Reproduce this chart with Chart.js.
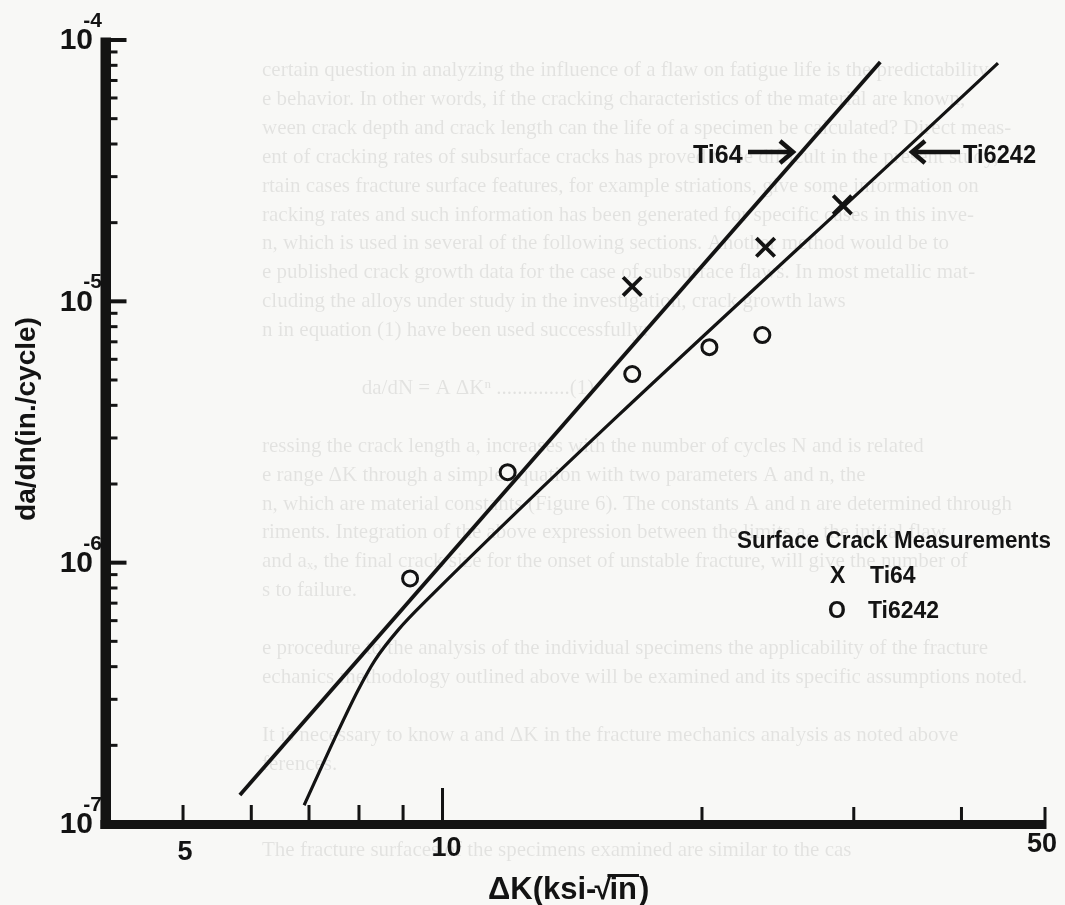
<!DOCTYPE html>
<html>
<head>
<meta charset="utf-8">
<title>Surface crack growth rate vs. stress intensity range</title>
<script src="https://cdn.jsdelivr.net/npm/chart.js@4.4.1/dist/chart.umd.min.js"></script>
<style>
  html, body { margin: 0; padding: 0; background: #f8f8f6; }
  canvas { display: block; }
</style>
</head>
<body>
<canvas id="crackChart" width="1065" height="905"></canvas>
<script>
// Surface crack measurements, ΔK in ksi·√in, da/dn in in./cycle
const ti64DeltaK = [16.6, 23.7, 29.1];
const ti64Rate = [1.14e-5, 1.61e-5, 2.34e-5];
const ti6242DeltaK = [9.17, 11.9, 16.6, 20.4, 23.5];
const ti6242Rate = [8.7e-7, 2.22e-6, 5.27e-6, 6.68e-6, 7.43e-6];

// Growth-law curves for each alloy
const ti64CurveDeltaK = [5.82, 32.2];
const ti64CurveRate = [1.29e-7, 8.24e-5];
const ti6242CurveDeltaK = [6.91, 7.48, 7.98, 8.35, 8.88, 9.59, 44.1];
const ti6242CurveRate = [1.18e-7, 2.09e-7, 3.25e-7, 4.24e-7, 5.52e-7, 7.2e-7, 8.16e-5];

// Axis ticks
const deltaKTicks = [5, 6, 7, 8, 9, 10, 20, 30, 40, 50];
const deltaKLabels = [5, 10, 50];
const rateDecades = [-7, -6, -5, -4];
const rateMinor = [2, 3, 4, 5, 6, 7, 8, 9];

// Text of the facing page that shows through the paper
const pageLines = [
  "certain question in analyzing the influence of a flaw on fatigue life is the predictability",
  "e behavior. In other words, if the cracking characteristics of the material are known,",
  "ween crack depth and crack length can the life of a specimen be calculated? Direct meas-",
  "ent of cracking rates of subsurface cracks has proved to be difficult in the present study,",
  "rtain cases fracture surface features, for example striations, give some information on",
  "racking rates and such information has been generated for specific cases in this inve-",
  "n, which is used in several of the following sections. Another method would be to",
  "e published crack growth data for the case of subsurface flaws. In most metallic mat-",
  "cluding the alloys under study in the investigation, crack growth laws",
  "n in equation (1) have been used successfully:",
  "",
  "                   da/dN = A ΔK\u207F ..............(1)",
  "",
  "ressing the crack length a, increases with the number of cycles N and is related",
  "e range ΔK through a simple equation with two parameters A and n, the",
  "n, which are material constants (Figure 6). The constants A and n are determined through",
  "riments. Integration of the above expression between the limits a\u2080, the initial flaw",
  "and a\u2093, the final crack size for the onset of unstable fracture, will give the number of",
  "s to failure.",
  "",
  "e procedure to the analysis of the individual specimens the applicability of the fracture",
  "echanics methodology outlined above will be examined and its specific assumptions noted.",
  "",
  "It is necessary to know a and ΔK in the fracture mechanics analysis as noted above",
  "ferences.",
  "",
  "",
  "The fracture surfaces of the specimens examined are similar to the cas"
];

const PAPER = "#f8f8f6";
const INK = "#131313";
const BOLD = "'Liberation Sans', Arial, sans-serif";

const toPoints = (xs, ys) => xs.map((x, i) => ({ x: x, y: ys[i] }));

function drawArrow(ctx, tipX, fromX, y, dir) {
  ctx.save();
  ctx.strokeStyle = INK;
  ctx.lineWidth = 4.5;
  ctx.lineCap = "butt";
  ctx.beginPath();
  ctx.moveTo(fromX, y);
  ctx.lineTo(tipX - dir * 3, y);
  ctx.stroke();
  ctx.lineJoin = "miter";
  ctx.beginPath();
  ctx.moveTo(tipX - dir * 13, y - 11);
  ctx.lineTo(tipX, y);
  ctx.lineTo(tipX - dir * 13, y + 11);
  ctx.stroke();
  ctx.restore();
}

const paperAxes = {
  id: "paperAxes",
  beforeDraw(chart) {
    const ctx = chart.ctx;
    ctx.save();
    ctx.fillStyle = PAPER;
    ctx.fillRect(0, 0, chart.width, chart.height);
    ctx.fillStyle = "rgba(0, 0, 0, 0.085)";
    ctx.font = "21px 'Liberation Serif', serif";
    ctx.textBaseline = "alphabetic";
    ctx.textAlign = "left";
    pageLines.forEach((line, i) => {
      ctx.fillText(line, 262, 76 + i * 28.9);
    });
    ctx.restore();
  },
  afterDraw(chart) {
    const ctx = chart.ctx;
    const xs = chart.scales.x;
    const ys = chart.scales.y;
    const area = chart.chartArea;
    const axisLeft = area.left + 1;
    const axisTop = area.bottom - 4;

    ctx.save();
    ctx.fillStyle = INK;

    // y axis bar and ticks
    const yTop = ys.getPixelForValue(1e-4);
    ctx.fillRect(axisLeft, yTop - 2.5, 10.5, area.bottom + 5 - yTop + 2.5);
    rateDecades.forEach(exp => {
      const major = Math.pow(10, exp);
      if (exp > -7) {
        const py = ys.getPixelForValue(major);
        ctx.fillRect(axisLeft + 10, py - 2, 16, 4);
      }
      if (exp < -4) {
        rateMinor.forEach(m => {
          const py = ys.getPixelForValue(m * major);
          ctx.fillRect(axisLeft + 10, py - 1.5, 7, 3);
        });
      }
    });

    // x axis bar and ticks
    ctx.fillRect(axisLeft, axisTop, xs.getPixelForValue(50) + 1.5 - axisLeft, 9);
    deltaKTicks.forEach(v => {
      const px = xs.getPixelForValue(v);
      const h = v === 10 ? 32 : (v < 10 ? 15 : 13);
      ctx.fillRect(px - 1.5, axisTop - h, 3, h);
    });

    // y tick labels: 10 with a superscript exponent
    ctx.textAlign = "right";
    rateDecades.forEach(exp => {
      const py = ys.getPixelForValue(Math.pow(10, exp));
      ctx.font = "bold 30px " + BOLD;
      ctx.textBaseline = "middle";
      ctx.fillText("10", 93, py + 1);
      ctx.font = "bold 21px " + BOLD;
      ctx.textBaseline = "alphabetic";
      ctx.fillText("-" + Math.abs(exp), 102, py - 13);
    });

    // x tick labels
    ctx.textAlign = "center";
    ctx.textBaseline = "alphabetic";
    ctx.font = "bold 27px " + BOLD;
    deltaKLabels.forEach(v => {
      const px = xs.getPixelForValue(v);
      if (v === 50) ctx.fillText("50", px - 3, 852);
      else if (v === 10) ctx.fillText("10", px + 4, 856);
      else ctx.fillText(String(v), px + 2, 860);
    });

    // x axis title: ΔK(ksi-√in) with the radical bar over "in"
    ctx.textAlign = "left";
    ctx.font = "bold 31px " + BOLD;
    let tx = 488;
    const base = 899;
    const head = "\u0394K(ksi-";
    ctx.fillText(head, tx, base);
    tx += ctx.measureText(head).width;
    ctx.fillText("\u221A", tx - 2, base);
    tx += ctx.measureText("\u221A").width - 4;
    const inW = ctx.measureText("in").width;
    ctx.fillText("in", tx, base);
    ctx.fillRect(tx - 2, base - 25, inW + 4, 3);
    tx += inW + 2;
    ctx.fillText(")", tx, base);

    // y axis title
    ctx.save();
    ctx.translate(27, 419);
    ctx.rotate(-Math.PI / 2);
    ctx.textAlign = "center";
    ctx.textBaseline = "middle";
    ctx.font = "bold 28px " + BOLD;
    ctx.fillText("da/dn(in./cycle)", 0, 0, 204);
    ctx.restore();

    // curve labels with arrows
    ctx.font = "bold 25px " + BOLD;
    ctx.textAlign = "left";
    ctx.fillText("Ti64", 693, 163, 50);
    drawArrow(ctx, 793, 748, 152, 1);
    drawArrow(ctx, 912, 960, 152, -1);
    ctx.fillText("Ti6242", 963, 163, 73);

    // symbol key
    ctx.font = "bold 23px " + BOLD;
    ctx.fillText("Surface Crack Measurements", 737, 548, 314);
    ctx.fillText("X", 830, 583);
    ctx.fillText("Ti64", 870, 583, 48);
    ctx.fillText("O", 828, 618);
    ctx.fillText("Ti6242", 868, 618, 71);

    ctx.restore();
  }
};

new Chart(document.getElementById("crackChart"), {
  type: "scatter",
  data: {
    datasets: [
      {
        label: "Ti64 curve",
        data: toPoints(ti64CurveDeltaK, ti64CurveRate),
        showLine: true,
        borderColor: INK,
        borderWidth: 3.8,
        pointRadius: 0
      },
      {
        label: "Ti6242 curve",
        data: toPoints(ti6242CurveDeltaK, ti6242CurveRate),
        showLine: true,
        cubicInterpolationMode: "monotone",
        borderColor: INK,
        borderWidth: 3.2,
        pointRadius: 0
      },
      {
        label: "Ti64",
        data: toPoints(ti64DeltaK, ti64Rate),
        pointStyle: "crossRot",
        pointRadius: 13,
        pointBorderWidth: 3.8,
        borderColor: INK,
        backgroundColor: INK
      },
      {
        label: "Ti6242",
        data: toPoints(ti6242DeltaK, ti6242Rate),
        pointStyle: "circle",
        pointRadius: 7.5,
        pointBorderWidth: 3,
        borderColor: INK,
        backgroundColor: PAPER
      }
    ]
  },
  options: {
    responsive: false,
    animation: false,
    events: [],
    layout: { padding: { left: 99.5, right: 20, top: 40, bottom: 81 } },
    scales: {
      x: { type: "logarithmic", min: 4, max: 50, display: false },
      y: { type: "logarithmic", min: 1e-7, max: 1e-4, display: false }
    },
    plugins: {
      legend: { display: false },
      tooltip: { enabled: false }
    }
  },
  plugins: [paperAxes]
});
</script>
</body>
</html>
